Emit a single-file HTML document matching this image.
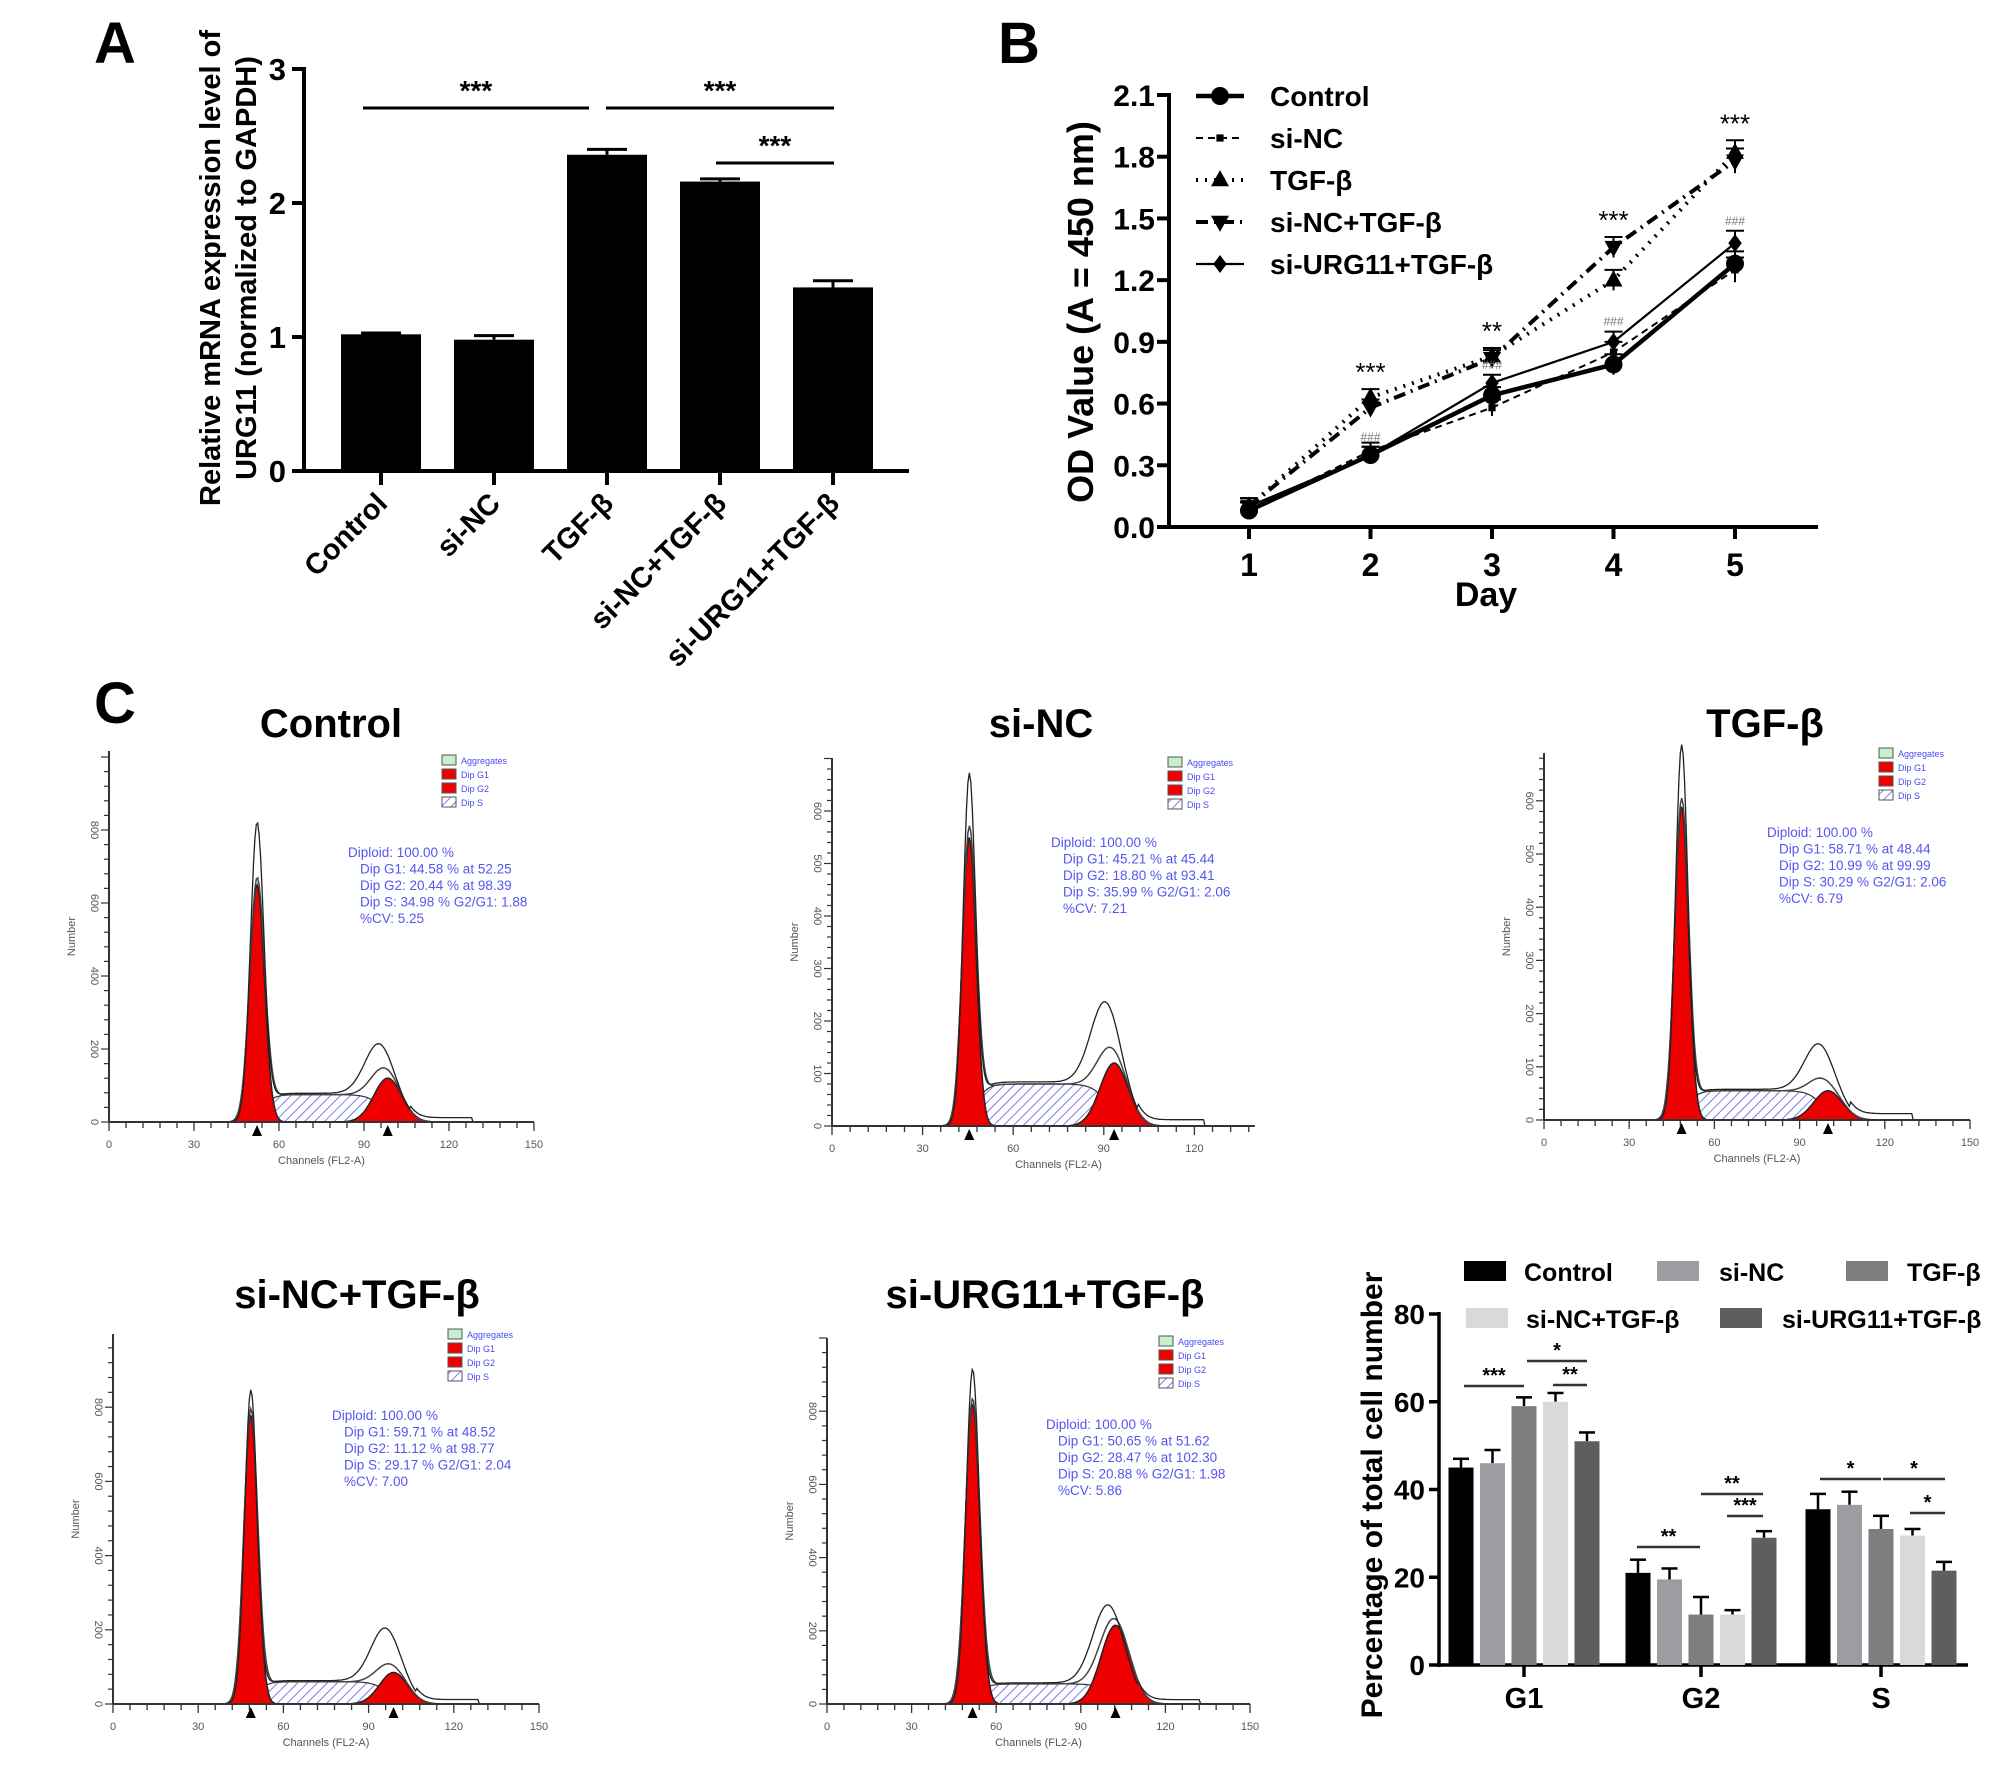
<!DOCTYPE html>
<html><head><meta charset="utf-8">
<style>
html,body{margin:0;padding:0;background:#fff;}
svg{display:block;font-family:"Liberation Sans",Arial,sans-serif;}
.b{font-weight:bold;}
</style></head>
<body>
<svg id="fig" width="2008" height="1780" viewBox="0 0 2008 1780" xmlns="http://www.w3.org/2000/svg">
<defs>
<pattern id="hatch" patternUnits="userSpaceOnUse" width="7" height="7" patternTransform="rotate(45)">
<rect width="7" height="7" fill="#fff"/><line x1="0" y1="0" x2="0" y2="7" stroke="#5a5ae6" stroke-width="1.6"/>
</pattern>
</defs>
<text x="94" y="63" font-size="58" class="b">A</text>
<text x="998" y="63" font-size="58" class="b">B</text>
<text x="94" y="723" font-size="58" class="b">C</text>

<g font-size="29" class="b" text-anchor="middle">
<text transform="translate(220,268) rotate(-90)">Relative mRNA expression level of</text>
<text transform="translate(256,268) rotate(-90)">URG11 (normalized to GAPDH)</text>
</g>
<g id="panelA"></g>

<text transform="translate(1093,312) rotate(-90)" text-anchor="middle" font-size="36" class="b">OD Value (A = 450 nm)</text>
<text x="1486" y="606" text-anchor="middle" font-size="34" class="b">Day</text>
<g id="panelB"></g>

<g id="flows"></g>

<text transform="translate(1382,1495) rotate(-90)" text-anchor="middle" font-size="30" class="b">Percentage of total cell number</text>
<g id="panelC"></g>
</svg>

<script>
const aCategories = ["Control","si-NC","TGF-β","si-NC+TGF-β","si-URG11+TGF-β"];
const aValues = [1.02, 0.98, 2.36, 2.16, 1.37];
const aErrors = [0.01, 0.03, 0.04, 0.02, 0.05];
const aTicks = [0,1,2,3];

const bDays = [1,2,3,4,5];
const bSeriesNames = ["Control","si-NC","TGF-β","si-NC+TGF-β","si-URG11+TGF-β"];
const bControl = [0.08, 0.35, 0.64, 0.79, 1.28];
const bSiNC = [0.08, 0.37, 0.58, 0.85, 1.25];
const bTGF = [0.10, 0.63, 0.83, 1.20, 1.82];
const bSiNCTGF = [0.10, 0.58, 0.82, 1.36, 1.78];
const bSiURG = [0.10, 0.35, 0.70, 0.90, 1.38];
const bErr = [0.04, 0.04, 0.04, 0.05, 0.06];
const bTicks = [0.0,0.3,0.6,0.9,1.2,1.5,1.8,2.1];
const bStars = ["","***","**","***","***"];

const cGroups = ["G1","G2","S"];
const cSeriesNames = ["Control","si-NC","TGF-β","si-NC+TGF-β","si-URG11+TGF-β"];
const cControl = [45, 21, 35.5];
const cSiNC = [46, 19.5, 36.5];
const cTGF = [59, 11.5, 31];
const cSiNCTGF = [60, 11.5, 29.5];
const cSiURG = [51, 29, 21.5];
const cErrControl = [2, 3, 3.5];
const cErrSiNC = [3, 2.5, 3];
const cErrTGF = [2, 4, 3];
const cErrSiNCTGF = [2, 1, 1.5];
const cErrSiURG = [2, 1.5, 2];
const cTicks = [0,20,40,60,80];

const flowTitles = ["Control","si-NC","TGF-β","si-NC+TGF-β","si-URG11+TGF-β"];
const flowG1Mu = [52.25, 45.44, 48.44, 48.52, 51.62];
const flowG1H = [650, 550, 590, 780, 820];
const flowG1Obs = [800, 650, 690, 830, 900];
const flowG2Mu = [98.39, 93.41, 99.99, 98.77, 102.3];
const flowG2H = [120, 120, 55, 85, 215];
const flowG2Obs = [170, 190, 110, 170, 240];
const flowSLevel = [75, 80, 55, 60, 55];
const flowTickMax = [800, 600, 600, 800, 800];
const flowTickStep = [200, 100, 100, 200, 200];
const flowStats = [
 ["Diploid: 100.00 %","Dip G1: 44.58 % at 52.25","Dip G2: 20.44 % at 98.39","Dip S: 34.98 %   G2/G1: 1.88","%CV: 5.25"],
 ["Diploid: 100.00 %","Dip G1: 45.21 % at 45.44","Dip G2: 18.80 % at 93.41","Dip S: 35.99 %   G2/G1: 2.06","%CV: 7.21"],
 ["Diploid: 100.00 %","Dip G1: 58.71 % at 48.44","Dip G2: 10.99 % at 99.99","Dip S: 30.29 %   G2/G1: 2.06","%CV: 6.79"],
 ["Diploid: 100.00 %","Dip G1: 59.71 % at 48.52","Dip G2: 11.12 % at 98.77","Dip S: 29.17 %   G2/G1: 2.04","%CV: 7.00"],
 ["Diploid: 100.00 %","Dip G1: 50.65 % at 51.62","Dip G2: 28.47 % at 102.30","Dip S: 20.88 %   G2/G1: 1.98","%CV: 5.86"]
];

const NS = "http://www.w3.org/2000/svg";
function mk(parent, tag, attrs, txt){
  const e = document.createElementNS(NS, tag);
  for (const k in attrs) e.setAttribute(k, attrs[k]);
  if (txt !== undefined) e.textContent = txt;
  parent.appendChild(e);
  return e;
}

(function(){
  const g = document.getElementById("panelA");
  const X0 = 304, Y0 = 471, YT = 69, XE = 909;
  const yA = v => Y0 - v*(Y0-YT)/3;
  const xA = i => 381 + i*113;
  let el;
  el = mk(g,"line",{x1:X0,y1:YT-2,x2:X0,y2:Y0+2,stroke:"#000","stroke-width":4});
  
  
  el = mk(g,"line",{x1:X0-2,y1:Y0,x2:XE,y2:Y0,stroke:"#000","stroke-width":4});
  
  
  aTicks.forEach(t=>{
    mk(g,"line",{x1:X0-12,y1:yA(t),x2:X0,y2:yA(t),stroke:"#000","stroke-width":4});
    el = mk(g,"text",{x:X0-18,y:yA(t)+11,"text-anchor":"end","font-size":31,"font-weight":"bold"},String(t));
    
    
  });
  aValues.forEach((v,i)=>{
    const cx = xA(i);
    el = mk(g,"rect",{x:cx-40,y:yA(v),width:80,height:Y0-yA(v),fill:"#000"});
    
    
    const top = yA(v+aErrors[i]);
    mk(g,"line",{x1:cx,y1:yA(v),x2:cx,y2:top,stroke:"#000","stroke-width":3});
    mk(g,"line",{x1:cx-20,y1:top,x2:cx+20,y2:top,stroke:"#000","stroke-width":3});
    mk(g,"line",{x1:cx,y1:Y0,x2:cx,y2:Y0+14,stroke:"#000","stroke-width":4});
    el = mk(g,"text",{transform:`translate(${cx+8},${Y0+34}) rotate(-45)`,"text-anchor":"end","font-size":29,"font-weight":"bold"},aCategories[i]);
    
    
  });
  const sig = [[363,589,108],[606,834,108],[716,834,163]];
  sig.forEach(s=>{
    el = mk(g,"line",{x1:s[0],y1:s[2],x2:s[1],y2:s[2],stroke:"#000","stroke-width":3});
    
    
    el = mk(g,"text",{x:(s[0]+s[1])/2,y:s[2]-8,"text-anchor":"middle","font-size":28,"font-weight":"bold"},"***");
    
    
  });
})();

(function(){
  const g = document.getElementById("panelB");
  const X0 = 1169, Y0 = 527, YT = 95, XE = 1818;
  const xB = d => 1249 + (d-1)*(1735-1249)/4;
  const yB = v => Y0 - v*(Y0-YT)/2.1;
  let el;
  el = mk(g,"line",{x1:X0,y1:YT-2,x2:X0,y2:Y0+2,stroke:"#000","stroke-width":4});
  
  
  el = mk(g,"line",{x1:X0-2,y1:Y0,x2:XE,y2:Y0,stroke:"#000","stroke-width":4});
  
  
  bTicks.forEach(t=>{
    mk(g,"line",{x1:X0-12,y1:yB(t),x2:X0,y2:yB(t),stroke:"#000","stroke-width":4});
    el = mk(g,"text",{x:X0-14,y:yB(t)+11,"text-anchor":"end","font-size":30,"font-weight":"bold"},t.toFixed(1));
    
    
  });
  bDays.forEach(d=>{
    mk(g,"line",{x1:xB(d),y1:Y0,x2:xB(d),y2:Y0+12,stroke:"#000","stroke-width":4});
    el = mk(g,"text",{x:xB(d),y:576,"text-anchor":"middle","font-size":32,"font-weight":"bold"},String(d));
    
    
  });
  const series = [bControl,bSiNC,bTGF,bSiNCTGF,bSiURG];
  const styles = [
    {w:4.5,dash:"",m:"circle"},
    {w:2,dash:"7,5",m:"square"},
    {w:4,dash:"2,7",m:"up"},
    {w:4,dash:"12,6,2,6",m:"down"},
    {w:2.2,dash:"",m:"diamond"}
  ];
  function marker(parent,x,y,m,s){
    if(m==="circle") return mk(parent,"circle",{cx:x,cy:y,r:s,fill:"#000"});
    if(m==="square") return mk(parent,"rect",{x:x-s*0.6,y:y-s*0.6,width:s*1.2,height:s*1.2,fill:"#000"});
    if(m==="up") return mk(parent,"polygon",{points:`${x},${y-s*1.1} ${x-s},${y+s*0.7} ${x+s},${y+s*0.7}`,fill:"#000"});
    if(m==="down") return mk(parent,"polygon",{points:`${x},${y+s*1.1} ${x-s},${y-s*0.7} ${x+s},${y-s*0.7}`,fill:"#000"});
    return mk(parent,"polygon",{points:`${x},${y-s} ${x+s*0.75},${y} ${x},${y+s} ${x-s*0.75},${y}`,fill:"#000"});
  }
  series.forEach((vals,si)=>{
    const st = styles[si];
    const pts = vals.map((v,i)=>xB(bDays[i])+","+yB(v)).join(" ");
    el = mk(g,"polyline",{points:pts,fill:"none",stroke:"#000","stroke-width":st.w,"stroke-dasharray":st.dash});
    
    
    vals.forEach((v,i)=>{
      const x = xB(bDays[i]);
      mk(g,"line",{x1:x,y1:yB(v-bErr[i]),x2:x,y2:yB(v+bErr[i]),stroke:"#000","stroke-width":2});
      mk(g,"line",{x1:x-9,y1:yB(v+bErr[i]),x2:x+9,y2:yB(v+bErr[i]),stroke:"#000","stroke-width":2});
      el = marker(g,x,yB(v),st.m,si===1?6:9);
      
      
    });
    const ly = 96 + si*42;
    el = mk(g,"line",{x1:1196,y1:ly,x2:1244,y2:ly,stroke:"#000","stroke-width":st.w,"stroke-dasharray":st.dash});
    
    
    marker(g,1220,ly,st.m,si===1?6:9);
    el = mk(g,"text",{x:1270,y:ly+10,"font-size":28,"font-weight":"bold"},bSeriesNames[si]);
    
    
  });
  bDays.forEach((d,i)=>{
    if(!bStars[i]) return;
    const top = Math.max(bTGF[i],bSiNCTGF[i]) + bErr[i];
    el = mk(g,"text",{x:xB(d),y:yB(top)-8,"text-anchor":"middle","font-size":26},bStars[i]);
    
    
    const low = Math.max(bControl[i],bSiURG[i]) + bErr[i];
    el = mk(g,"text",{x:xB(d),y:yB(low)-6,"text-anchor":"middle","font-size":12,fill:"#777"},"###");
    
    
  });
})();

(function(){
  const root = document.getElementById("flows");
  const L = [
    {ox:109,pc:2.833,end:150,y0:1122,pu:0.365,top:751,tx:331,ty:737,lx:442,ly:760,sx:348,sy:857},
    {ox:832,pc:3.02,end:140,y0:1126,pu:0.525,top:758,tx:1041,ty:737,lx:1168,ly:762,sx:1051,sy:847},
    {ox:1544,pc:2.84,end:150,y0:1120,pu:0.532,top:753,tx:1765,ty:737,lx:1879,ly:753,sx:1767,sy:837},
    {ox:113,pc:2.84,end:150,y0:1704,pu:0.371,top:1334,tx:357,ty:1308,lx:448,ly:1334,sx:332,sy:1420},
    {ox:827,pc:2.82,end:150,y0:1704,pu:0.366,top:1338,tx:1045,ty:1308,lx:1159,ly:1341,sx:1046,sy:1429}
  ];
  const gauss = (c,mu,h,sd)=> h*Math.exp(-0.5*((c-mu)/sd)**2);
  const sig = (z)=> 1/(1+Math.exp(-z));
  L.forEach((p,i)=>{
    const g = mk(root,"g",{});
    
    
    const X = c => p.ox + c*p.pc;
    const Y = v => p.y0 - v*p.pu;
    const mu1 = flowG1Mu[i], mu2 = flowG2Mu[i];
    const sd1 = mu1*0.05, sd2 = mu2*0.05;
    const sF = c => flowSLevel[i]*sig((c-mu1-2)/2)*sig((mu2-2-c)/2.5);
    const g1F = c => gauss(c,mu1,flowG1H[i],sd1);
    const g2F = c => gauss(c,mu2,flowG2H[i],sd2);
    let el;
    el = mk(g,"text",{x:p.tx,y:p.ty,"text-anchor":"middle","font-size":40,"font-weight":"bold"},flowTitles[i]);
    
    
    const areaPath = (f,a,b)=>{ let d="M"+X(a).toFixed(1)+","+p.y0; for(let c=a;c<=b;c+=0.5){ d+=" L"+X(c).toFixed(1)+","+Y(f(c)).toFixed(1);} d+=" L"+X(b).toFixed(1)+","+p.y0+" Z"; return d; };
    el = mk(g,"path",{d:areaPath(sF,mu1-8,mu2+12),fill:"url(#hatch)",stroke:"#333","stroke-width":1.2});
    
    
    el = mk(g,"path",{d:areaPath(g1F,mu1-4*sd1,mu1+4*sd1),fill:"#ee0000",stroke:"#222","stroke-width":1.5});
    
    
    el = mk(g,"path",{d:areaPath(g2F,mu2-4*sd2,mu2+4*sd2),fill:"#ee0000",stroke:"#222","stroke-width":1.5});
    
    
    const total = c => g1F(c)+g2F(c)+sF(c);
    let d="M"+X(0)+","+p.y0;
    for(let c=0;c<=p.end-5;c+=0.5) d+=" L"+X(c).toFixed(1)+","+Y(total(c)).toFixed(1);
    el = mk(g,"path",{d:d,fill:"none",stroke:"#444","stroke-width":1.5});
    
    
    const obs = c => gauss(c,mu1,flowG1Obs[i],sd1*0.9)+gauss(c,mu2-2,flowG2Obs[i],sd2*1.1)+sF(c)*1.05 + (c>mu2+8&&c<mu2+30?12:0);
    d="M"+X(0)+","+p.y0;
    for(let c=0;c<=p.end-5;c+=0.5) d+=" L"+X(c).toFixed(1)+","+Y(obs(c)).toFixed(1);
    el = mk(g,"path",{d:d,fill:"none",stroke:"#222","stroke-width":1.3});
    
    
    el = mk(g,"line",{x1:p.ox,y1:p.top,x2:p.ox,y2:p.y0,stroke:"#333","stroke-width":2});
    
    
    el = mk(g,"line",{x1:p.ox,y1:p.y0,x2:X(p.end),y2:p.y0,stroke:"#333","stroke-width":2});
    
    
    for(let c=0;c<=p.end;c+=6){ mk(g,"line",{x1:X(c),y1:p.y0,x2:X(c),y2:p.y0+(c%30===0?9:6),stroke:"#333","stroke-width":1.3}); }
    for(let c=0;c<=p.end;c+=30){
      el = mk(g,"text",{x:X(c),y:p.y0+26,"text-anchor":"middle","font-size":11,fill:"#555"},String(c));
      
      
    }
    const step = flowTickStep[i]/5;
    for(let v=0; Y(v)>=p.top; v+=step){ mk(g,"line",{x1:p.ox-(v%flowTickStep[i]===0?8:5),y1:Y(v),x2:p.ox,y2:Y(v),stroke:"#333","stroke-width":1.2}); }
    for(let v=0; v<=flowTickMax[i]; v+=flowTickStep[i]){
      el = mk(g,"text",{transform:`translate(${p.ox-18},${Y(v)}) rotate(90)`,"text-anchor":"middle","font-size":11,fill:"#555"},String(v));
      
      
    }
    el = mk(g,"text",{transform:`translate(${p.ox-34},${(p.top+p.y0)/2}) rotate(-90)`,"text-anchor":"middle","font-size":11,fill:"#555"},"Number");
    
    
    el = mk(g,"text",{x:X(75),y:p.y0+42,"text-anchor":"middle","font-size":11,fill:"#555"},"Channels (FL2-A)");
    
    
    [mu1,mu2].forEach(m=>{
      el = mk(g,"polygon",{points:`${X(m)},${p.y0+3} ${X(m)-5},${p.y0+14} ${X(m)+5},${p.y0+14}`,fill:"#000"});
      
      
    });
    const lg = [["Aggregates","#c9f0cc"],["Dip G1","#ee0000"],["Dip G2","#ee0000"],["Dip S","url(#hatch)"]];
    lg.forEach((it,k)=>{
      el = mk(g,"rect",{x:p.lx,y:p.ly+k*14-5,width:14,height:10,fill:it[1],stroke:"#555","stroke-width":1});
      
      
      el = mk(g,"text",{x:p.lx+19,y:p.ly+k*14+4,"font-size":9,fill:"#4b4bf0"},it[0]);
      
      
    });
    flowStats[i].forEach((s,k)=>{
      el = mk(g,"text",{x:p.sx+(k?12:0),y:p.sy+k*16.5,"font-size":13.5,fill:"#5555f0","xml:space":"preserve"},s);
      
      
    });
  });
})();

(function(){
  const g = document.getElementById("panelC");
  const X0 = 1439, Y0 = 1665, YT = 1314, XE = 1968;
  const yC = v => Y0 - v*(Y0-YT)/80;
  const centers = [1524, 1701, 1881];
  const colors = ["#000000","#9c9ca2","#7e7e80","#d9d9d9","#5e5e60"];
  const series = [cControl,cSiNC,cTGF,cSiNCTGF,cSiURG];
  const errs = [cErrControl,cErrSiNC,cErrTGF,cErrSiNCTGF,cErrSiURG];
  let el;
  el = mk(g,"line",{x1:X0,y1:YT-2,x2:X0,y2:Y0+2,stroke:"#000","stroke-width":3.5});
  
  
  el = mk(g,"line",{x1:X0-2,y1:Y0,x2:XE,y2:Y0,stroke:"#000","stroke-width":3.5});
  
  
  cTicks.forEach(t=>{
    mk(g,"line",{x1:X0-10,y1:yC(t),x2:X0,y2:yC(t),stroke:"#000","stroke-width":3.5});
    el = mk(g,"text",{x:X0-14,y:yC(t)+10,"text-anchor":"end","font-size":28,"font-weight":"bold"},String(t));
    
    
  });
  cGroups.forEach((gname,gi)=>{
    mk(g,"line",{x1:centers[gi],y1:Y0,x2:centers[gi],y2:Y0+12,stroke:"#000","stroke-width":3.5});
    el = mk(g,"text",{x:centers[gi],y:1708,"text-anchor":"middle","font-size":29,"font-weight":"bold"},gname);
    
    
    series.forEach((vals,si)=>{
      const cx = centers[gi] + (si-2)*31.5;
      const v = vals[gi];
      const top = yC(v+errs[si][gi]);
      mk(g,"line",{x1:cx,y1:yC(v),x2:cx,y2:top,stroke:"#000","stroke-width":2.5});
      mk(g,"line",{x1:cx-8,y1:top,x2:cx+8,y2:top,stroke:"#000","stroke-width":2.5});
      el = mk(g,"rect",{x:cx-12.5,y:yC(v),width:25,height:Y0-yC(v),fill:colors[si]});
      
      
    });
  });
  const brackets = [
    [1464,1524,1386,"***"],[1527,1587,1361,"*"],[1553,1587,1385,"**"],
    [1637,1700,1547,"**"],[1701,1763,1494,"**"],[1727,1763,1516,"***"],
    [1820,1881,1479,"*"],[1883,1945,1479,"*"],[1910,1945,1513,"*"]
  ];
  brackets.forEach(b=>{
    el = mk(g,"line",{x1:b[0],y1:b[2],x2:b[1],y2:b[2],stroke:"#333","stroke-width":2.5});
    
    
    el = mk(g,"text",{x:(b[0]+b[1])/2,y:b[2]-4,"text-anchor":"middle","font-size":20,"font-weight":"bold"},b[3]);
    
    
  });
  const leg = [[1464,1271],[1657,1271],[1846,1271],[1466,1318],[1720,1318]];
  const legText = [1524,1719,1907,1526,1782];
  leg.forEach((pos,si)=>{
    el = mk(g,"rect",{x:pos[0],y:pos[1]-10,width:42,height:20,fill:colors[si]});
    
    
    el = mk(g,"text",{x:legText[si],y:pos[1]+10,"font-size":25,"font-weight":"bold"},cSeriesNames[si]);
    
    
  });
})();
</script>
</body></html>
